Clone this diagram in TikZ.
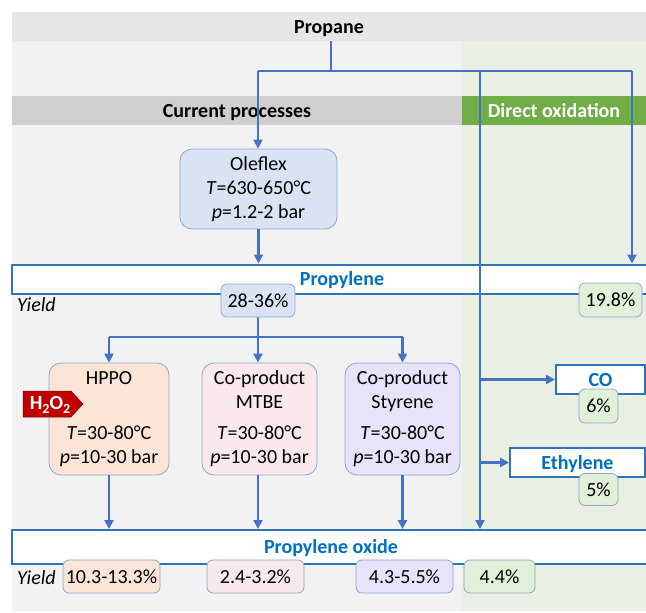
\documentclass[tikz,border=0pt]{standalone}
\usepackage{fontspec}
\setmainfont{Carlito}
\usetikzlibrary{arrows.meta}
\definecolor{bgTop}{HTML}{E6E6E6}
\definecolor{bgGray}{HTML}{F2F2F2}
\definecolor{bgGreen}{HTML}{E9EFE3}
\definecolor{bandGray}{HTML}{D0CECE}
\definecolor{bandGreen}{HTML}{70AD47}
\definecolor{lblue}{HTML}{4472C4}
\definecolor{pbord}{HTML}{2E75B6}
\definecolor{ptext}{HTML}{0070C0}
\definecolor{bord}{HTML}{8FA5CF}
\definecolor{fBlue}{HTML}{DAE3F3}
\definecolor{fOrange}{HTML}{FBE5D6}
\definecolor{fPink}{HTML}{F9E8EC}
\definecolor{fLav}{HTML}{E7E3F8}
\definecolor{fGreen}{HTML}{E2EFD9}
\definecolor{hred}{HTML}{C00000}
\newcommand\fsz{\fontsize{20}{24}\selectfont}
\tikzset{
  ln/.style={draw=lblue, line width=2.8pt},
  arr/.style={ln, -{Triangle[length=9pt,width=9pt]}},
  capc/.style={text height=13pt, text depth=0pt},
  band/.style={inner sep=0, outer sep=0, font=\fsz\bfseries, capc},
  proc/.style={rounded corners=12pt, draw=bord, line width=0.8pt, align=center, inner sep=0, font=\fsz},
  ybox/.style={rounded corners=6pt, draw=bord, line width=0.8pt, inner sep=0, font=\fsz, capc},
  prod/.style={draw=pbord, line width=2pt, fill=white, text=ptext, inner sep=0, font=\fsz\bfseries, capc},
  lbl/.style={inner sep=0, font=\fsz\itshape, anchor=west}
}
\begin{document}
\begin{tikzpicture}[x=1pt,y=-1pt]
\useasboundingbox (0,0) rectangle (646,613);
\clip (0,0) rectangle (646,613);
% backgrounds
\fill[bgGray] (12,41) rectangle (462,611);
\fill[bgGreen] (462,41) rectangle (646,611);
\node[band, fill=bgTop, minimum width=634pt, minimum height=29pt] (propane) at (329,26.5) {Propane};
\node[band, fill=bandGray, minimum width=450pt, minimum height=29pt] (cur) at (237,110.5) {Current processes};
\node[band, fill=bandGreen, text=white, minimum width=184pt, minimum height=29pt] (dox) at (554,110.5) {Direct oxidation};
% product bars
\node[prod, minimum width=660pt, minimum height=29pt] (pp) at (342,279) {Propylene};
\node[prod, minimum width=638pt, minimum height=34pt] (pox) at (331,547) {Propylene oxide};
% coordinates
\coordinate (sp) at (331,71);
\coordinate (cL) at (258,71);
\coordinate (cM) at (480,71);
\coordinate (cR) at (632,71);
\coordinate (br) at (258,337);
% process boxes
\node[proc, fill=fBlue, minimum width=157pt, minimum height=80pt] (ole) at (258.5,189) {Oleflex\\\textit{T}=630-650°C\\\textit{p}=1.2-2 bar};
\node[proc, fill=fOrange, minimum width=120pt, minimum height=112pt] (hppo) at (109,419) {HPPO\\[31pt]\textit{T}=30-80°C\\\textit{p}=10-30 bar};
\node[proc, fill=fPink, minimum width=115pt, minimum height=112pt] (mtbe) at (259.5,419) {Co-product\\MTBE\\[7pt]\textit{T}=30-80°C\\\textit{p}=10-30 bar};
\node[proc, fill=fLav, minimum width=115pt, minimum height=112pt] (sty) at (402.5,419) {Co-product\\Styrene\\[7pt]\textit{T}=30-80°C\\\textit{p}=10-30 bar};
% side products
\node[prod, minimum width=89pt, minimum height=29pt] (co) at (600.5,379.5) {CO};
\node[prod, minimum width=135pt, minimum height=29pt] (eth) at (577.5,462.5) {Ethylene};
% connectors
\draw[ln] (sp |- propane.south) -- (sp);
\draw[ln] (cL) -- (cR);
\draw[arr] (cL) -- (cL |- ole.north);
\draw[arr] (cR) -- (cR |- pp.north);
\draw[arr] (ole.south) -- (ole.south |- pp.north);
\draw[arr] (cM) -- (cM |- pox.north);
\draw[arr] (cM |- co.west) -- (co.west);
\draw[arr] (cM |- eth.west) -- (eth.west);
\draw[ln] (br) -- (br |- pp.south);
\draw[ln] (hppo.north |- br) -- (sty.north |- br);
\draw[arr] (hppo.north |- br) -- (hppo.north);
\draw[arr] (br) -- (br |- mtbe.north);
\draw[arr] (sty.north |- br) -- (sty.north);
\draw[arr] (hppo.south) -- (hppo.south |- pox.north);
\draw[arr] (br |- mtbe.south) -- (br |- pox.north);
\draw[arr] (sty.south) -- (sty.south |- pox.north);
% yield boxes
\node[ybox, fill=fBlue, minimum width=74pt, minimum height=33pt] (y1) at (258,300.5) {28-36\%};
\node[ybox, fill=fGreen, minimum width=63pt, minimum height=34pt] (y2) at (610.5,300) {19.8\%};
\node[ybox, fill=fGreen, minimum width=39pt, minimum height=34pt] (y3) at (598.5,406) {6\%};
\node[ybox, fill=fGreen, minimum width=39pt, minimum height=32pt] (y4) at (598.5,489.5) {5\%};
\node[ybox, fill=fOrange, minimum width=97pt, minimum height=33pt] (y5) at (111.5,576.5) {10.3-13.3\%};
\node[ybox, fill=fPink, minimum width=97pt, minimum height=33pt] (y6) at (255.5,576.5) {2.4-3.2\%};
\node[ybox, fill=fLav, minimum width=97pt, minimum height=33pt] (y7) at (404.5,576.5) {4.3-5.5\%};
\node[ybox, fill=fGreen, minimum width=71pt, minimum height=33pt] (y8) at (499.5,576.5) {4.4\%};
\node[lbl] (yl1) at (17,305) {Yield};
\node[lbl] (yl2) at (17,578) {Yield};
% H2O2 tag
\draw[fill=hred, draw=hred!70!black, line width=0.5pt] (23,391) -- (71,391) -- (83,404) -- (71,417) -- (23,417) -- cycle;
\node[inner sep=0, text=white, font=\fsz\bfseries] (h2o2) at (50,405) {H\raisebox{-0.22em}{\fontsize{14}{14}\selectfont 2}O\raisebox{-0.22em}{\fontsize{14}{14}\selectfont 2}};
\end{tikzpicture}
\end{document}
